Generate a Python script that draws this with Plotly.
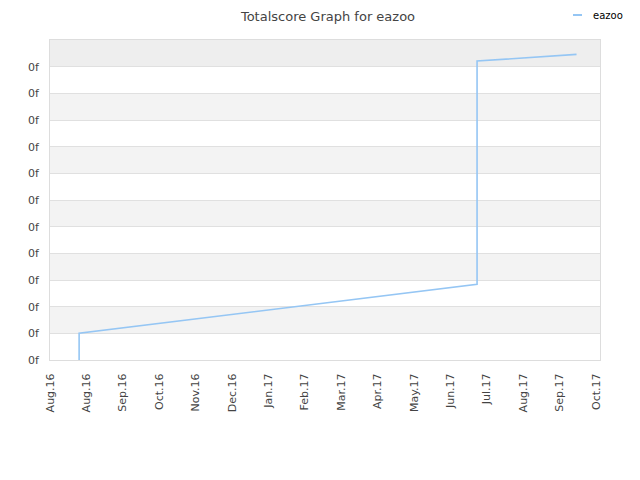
import plotly.graph_objects as go

# Data
dates = ["2016-08-25", "2016-08-25", "2017-07-19", "2017-07-19", "2017-10-09"]
scores = [0.0, 1.0, 2.84, 11.21, 11.46]

tick_dates = ["2016-08-01", "2016-08-31", "2016-09-30", "2016-10-30", "2016-11-29",
              "2016-12-29", "2017-01-28", "2017-02-27", "2017-03-29", "2017-04-28",
              "2017-05-28", "2017-06-27", "2017-07-27", "2017-08-26", "2017-09-25",
              "2017-10-25"]
tick_labels = ["Aug.16", "Aug.16", "Sep.16", "Oct.16", "Nov.16", "Dec.16", "Jan.17",
               "Feb.17", "Mar.17", "Apr.17", "May.17", "Jun.17", "Jul.17", "Aug.17",
               "Sep.17", "Oct.17"]
y_ticks = list(range(12))
y_labels = ["0f"] * 12
y_max = 12
series_name = "eazoo"
line_color = "#95c6f4"

W, H = 640, 480
fig = go.Figure()
fig.add_trace(go.Scatter(x=dates, y=scores, mode="lines", name=series_name,
                         line=dict(color=line_color, width=1.6), showlegend=False))

shapes = []
for i in range(y_max):
    if i % 2 == 1:
        shapes.append(dict(type="rect", xref="paper", yref="y", x0=0, x1=1, y0=i, y1=i + 1,
                           fillcolor="#eeeeee" if i == y_max - 1 else "#f3f3f3",
                           line=dict(width=0), layer="below"))

# legend drawn as a short line + label (page offset of 8px accounted for)
ml, mr, mt, mb = 42, 48, 32, 128
pw, ph = W - ml - mr, H - mt - mb
def px_x(x):
    return (x - ml) / pw
def px_y(y):
    return 1 - (y - mt) / ph

leg_y = 7
shapes.append(dict(type="line", xref="paper", yref="paper",
                   x0=px_x(565), x1=px_x(574), y0=px_y(leg_y), y1=px_y(leg_y),
                   line=dict(color=line_color, width=2)))

fig.update_layout(
    width=W, height=H,
    margin=dict(l=ml, r=mr, t=mt, b=mb),
    paper_bgcolor="white", plot_bgcolor="white",
    title=dict(text="Totalscore Graph for eazoo", x=0.5, xanchor="center",
               y=1 - 8 / H, yanchor="middle",
               font=dict(family="DejaVu Sans", size=13, color="#444444")),
    font=dict(family="DejaVu Sans", size=11, color="#444444"),
    showlegend=False,
    shapes=shapes,
    annotations=[dict(text=series_name, xref="paper", yref="paper", x=px_x(583), y=px_y(leg_y),
                      xanchor="left", yanchor="middle", showarrow=False,
                      font=dict(family="DejaVu Sans", size=10, color="#000000"))],
    xaxis=dict(type="date", range=["2016-08-01", "2017-10-28 08:00"], automargin=False,
               tickvals=tick_dates, ticktext=tick_labels, tickangle=-90,
               showgrid=False, zeroline=False, showline=True, mirror=True,
               linecolor="#dddddd", linewidth=1, ticks="", ticklabelstandoff=8,
               tickfont=dict(size=11, color="#444444")),
    yaxis=dict(range=[0, y_max], tickvals=y_ticks, ticktext=y_labels, automargin=False,
               showgrid=True, gridcolor="#e0e0e0", gridwidth=1, zeroline=False,
               showline=True, mirror=True, linecolor="#dddddd", linewidth=1,
               ticks="", ticklabelstandoff=8,
               tickfont=dict(size=11, color="#444444")),
)

fig.write_html("out.html")
